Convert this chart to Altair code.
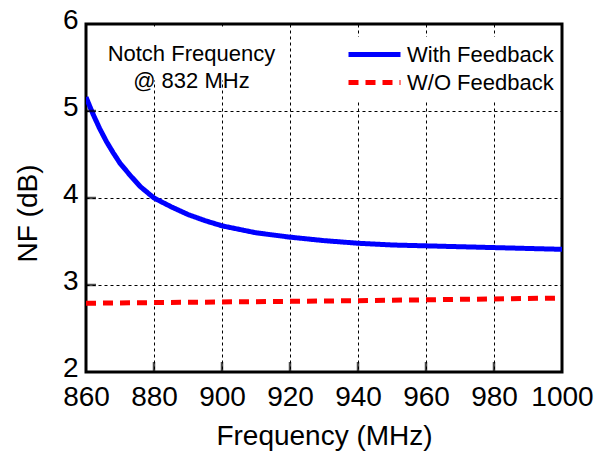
import altair as alt
import pandas as pd

# --- data ---
freq_fb = [860, 862, 864, 866, 868, 870, 873, 876, 880, 885, 890, 895, 900,
           910, 920, 930, 940, 950, 960, 970, 980, 990, 1000]
nf_fb = [5.16, 4.97, 4.80, 4.65, 4.52, 4.40, 4.26, 4.13, 4.00, 3.90, 3.81, 3.74, 3.68,
         3.60, 3.55, 3.51, 3.48, 3.46, 3.45, 3.44, 3.43, 3.42, 3.41]
freq_wo = [860, 900, 940, 980, 1000]
nf_wo = [2.79, 2.805, 2.82, 2.84, 2.85]

series_names = ["With Feedback", "W/O Feedback"]
x_ticks = [860, 880, 900, 920, 940, 960, 980, 1000]
y_ticks = [2, 3, 4, 5, 6]
note_text = "Notch Frequency\n@ 832 MHz"
note_x = [891]
note_y = [5.66]

FONT = "Liberation Sans"

df = pd.concat([
    pd.DataFrame({"f": freq_fb, "nf": nf_fb, "s": series_names[0]}),
    pd.DataFrame({"f": freq_wo, "nf": nf_wo, "s": series_names[1]}),
])

xscale = alt.Scale(domain=[860, 1000], nice=False, zero=False)
yscale = alt.Scale(domain=[2, 6], nice=False, zero=False)

leg = dict(title=None, orient="none", legendX=271, legendY=13,
           symbolType="M-2.6,0H2.6", symbolSize=400, symbolStrokeWidth=5,
           labelFontSize=22, labelFont=FONT, labelOffset=20, padding=5,
           rowPadding=4, labelColor="black", fillColor="white", strokeColor="white")

lines = alt.Chart(df).mark_line(strokeWidth=5, strokeCap="butt", clip=True).encode(
    x=alt.X("f:Q", scale=xscale,
            axis=alt.Axis(values=x_ticks, title="Frequency (MHz)", format="d",
                          labelFlush=False, labelOverlap=False,
                          labelPadding=11, titlePadding=11)),
    y=alt.Y("nf:Q", scale=yscale,
            axis=alt.Axis(values=y_ticks, title="NF (dB)", format="d", labelPadding=8,
                          labelOffset=-4,
                          titleX=-58, titleY=189, titleAngle=270,
                          titleAlign="center", titleBaseline="middle")),
    color=alt.Color("s:N", scale=alt.Scale(domain=series_names, range=["#0000ff", "#ff0000"]),
                    legend=alt.Legend(**leg)),
    strokeDash=alt.StrokeDash("s:N", scale=alt.Scale(domain=series_names, range=[[1, 0], [10, 7]]),
                              legend=alt.Legend(**leg)),
)

xt = pd.DataFrame({"f": x_ticks[1:-1], "nf": [2] * (len(x_ticks) - 2)})
yt = pd.DataFrame({"f": [860] * (len(y_ticks) - 2), "nf": y_ticks[1:-1]})

xtick_marks = alt.Chart(xt).mark_tick(orient="vertical", size=10, thickness=2.5,
                                       color="black", yOffset=-5).encode(
    x=alt.X("f:Q", scale=xscale), y=alt.Y("nf:Q", scale=yscale))
ytick_marks = alt.Chart(yt).mark_tick(orient="horizontal", size=10, thickness=2.5,
                                       color="black", xOffset=5).encode(
    x=alt.X("f:Q", scale=xscale), y=alt.Y("nf:Q", scale=yscale))

note_df = pd.DataFrame({"f": note_x, "nf": note_y, "t": [note_text]})
note_bg = alt.Chart(note_df).mark_rect(width=182, height=54, color="white").encode(
    x=alt.X("f:Q", scale=xscale), y=alt.Y("nf:Q", scale=yscale))
note = alt.Chart(note_df).mark_text(
    font=FONT, fontSize=22, align="center", baseline="middle", lineBreak="\n",
    lineHeight=27, color="black").encode(
    x=alt.X("f:Q", scale=xscale), y=alt.Y("nf:Q", scale=yscale), text="t:N")

chart = alt.layer(note_bg, lines, xtick_marks, ytick_marks, note).properties(
    width=476, height=348,
    background="white",
    autosize=alt.AutoSizeParams(type="none"),
    padding={"left": 86, "top": 24, "right": 48, "bottom": 92},
).configure_view(stroke="black", strokeWidth=3).configure_axis(
    grid=True, gridDash=[3, 3], gridColor="black", gridWidth=1, gridOpacity=1,
    domain=False, ticks=False, labelFont=FONT, labelFontSize=28, labelColor="black",
    titleFont=FONT, titleFontSize=28, titleFontWeight="normal", titleColor="black",
)

chart.save("out.html", embed_options={"renderer": "svg", "actions": False})
